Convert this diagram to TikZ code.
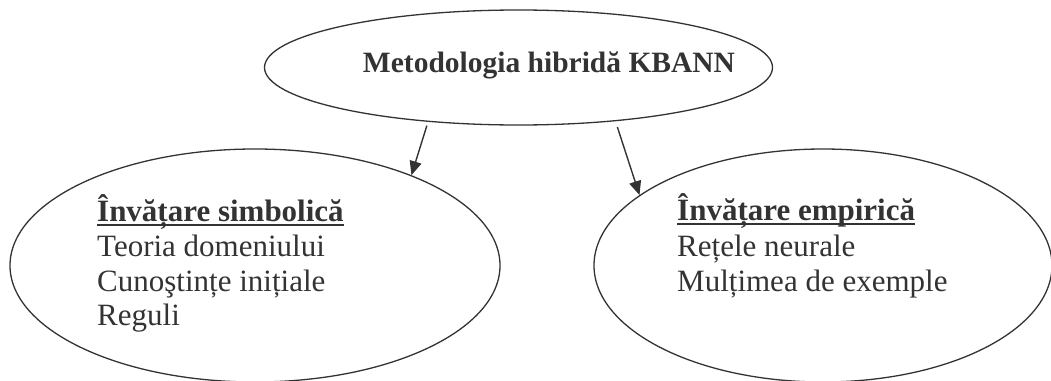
\documentclass[tikz,border=0pt]{standalone}
\usepackage{fontspec}
\setmainfont{Liberation Serif}
\usetikzlibrary{shapes.geometric,arrows.meta}
\definecolor{ink}{RGB}{51,51,51}
\tikzset{
  oval/.style={ellipse, draw=ink, line width=1.3pt, inner sep=0pt},
  titletext/.style={inner sep=0pt, text=ink, font=\fontsize{29.5}{34}\selectfont\bfseries},
  headtext/.style={inner sep=0pt, anchor=base west, text=ink, font=\fontsize{31}{35}\selectfont\bfseries},
  bodytext/.style={inner sep=0pt, anchor=base west, text=ink, font=\fontsize{31}{35}\selectfont},
  link/.style={draw=ink, line width=1.4pt, -{Triangle[length=14pt,width=12pt]}},
  rulebar/.style={draw=ink, line width=2.2pt}
}
\begin{document}
\begin{tikzpicture}[x=1pt,y=-1pt]
\useasboundingbox (0,0) rectangle (1051,380);

% the three ovals
\node[oval, minimum width=508pt, minimum height=115pt] (top) at (518.5,67.5) {};
\node[oval, minimum width=490pt, minimum height=233pt] (sym) at (255,265.5) {};
\node[oval, minimum width=458pt, minimum height=233pt] (emp) at (823,265.5) {};

% top label
\node[titletext, anchor=base] (title) at (549,72) {Metodologia hibridă KBANN};

% left oval contents
\node[headtext] (hsym) at (97,221) {Învățare simbolică};
\node[bodytext] (s1) at (97,256.5) {Teoria domeniului};
\node[bodytext] (s2) at (97,291) {Cunoştințe inițiale};
\node[bodytext] (s3) at (97,325.5) {Reguli};

% right oval contents
\node[headtext] (hemp) at (677,220) {Învățare empirică};
\node[bodytext] (e1) at (677,256.5) {Rețele neurale};
\node[bodytext] (e2) at (677,291.5) {Mulțimea de exemple};

% underlines of the headings
\draw[rulebar] ([yshift=-4pt]hsym.base west) -- ([yshift=-4pt]hsym.base east);
\draw[rulebar] ([yshift=-4pt]hemp.base west) -- ([yshift=-4pt]hemp.base east);

% arrows
\draw[link, shorten <=4pt] (top.211.3) -- (sym.30.9);
\draw[link, shorten <=6pt] (top.331.7) -- (emp.159.6);
\end{tikzpicture}
\end{document}
